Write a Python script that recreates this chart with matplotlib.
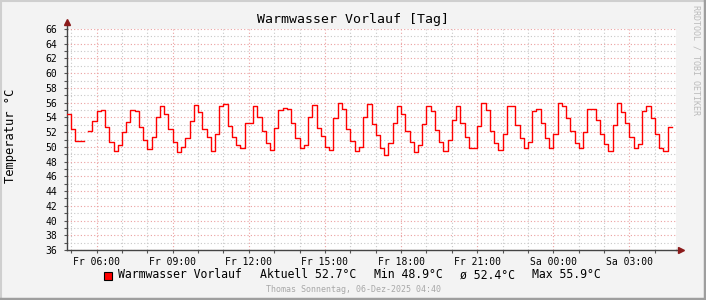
# Warmwasser Vorlauf - Tagesansicht im RRDtool-Stil
import matplotlib
matplotlib.use('Agg')
import matplotlib.pyplot as plt
import matplotlib.dates as mdates
from matplotlib.ticker import FuncFormatter, MultipleLocator
import numpy as np
import pandas as pd

nan = np.nan

werte = [
    54.5, 52.4, 50.8, 50.8, nan, 52.2, 53.5, 54.9, 55.0, 52.7, 50.6, 49.5,
    50.2, 52.0, 53.4, 55.0, 54.9, 52.7, 50.9, 49.7, 51.3, 54.0, 55.5, 54.5,
    52.4, 50.6, 49.3, 50.0, 51.2, 53.5, 55.7, 54.8, 52.4, 51.3, 49.4, 51.8,
    55.6, 55.8, 52.8, 51.3, 50.2, 49.9, 53.2, 53.3, 55.6, 54.0, 52.2, 50.5,
    49.6, 52.5, 55.0, 55.3, 55.1, 53.2, 51.2, 49.9, 50.2, 54.0, 55.7, 52.5,
    51.5, 50.0, 49.6, 53.9, 55.9, 55.1, 52.4, 50.8, 49.4, 50.0, 54.0, 55.8,
    53.1, 51.6, 49.9, 48.9, 50.5, 53.2, 55.6, 54.4, 52.2, 50.6, 49.3, 50.2,
    53.1, 55.5, 54.9, 52.3, 50.7, 49.4, 50.9, 53.6, 55.5, 53.2, 51.3, 49.8,
    49.9, 52.8, 55.9, 55.0, 52.2, 50.5, 49.6, 51.8, 55.5, 55.5, 53.0, 51.2,
    49.9, 50.7, 54.9, 55.2, 53.2, 51.2, 49.9, 51.8, 55.9, 55.5, 53.9, 52.2,
    50.5, 49.9, 52.0, 55.2, 55.1, 53.7, 51.7, 50.4, 49.4, 53.0, 55.9, 54.7,
    53.3, 51.3, 49.9, 50.4, 54.9, 55.6, 53.9, 51.8, 49.8, 49.4, 52.7,
]
start = pd.Timestamp('2025-12-05 04:50')
ende = pd.Timestamp('2025-12-06 04:50')
zeiten = pd.date_range(start, periods=len(werte) + 1, freq='10min')

legende = ['Warmwasser Vorlauf', 'Aktuell 52.7°C', 'Min 48.9°C', 'ø 52.4°C', 'Max 55.9°C']
legende_x = [118, 260, 374, 460, 532]
wochentage = ['Mo', 'Di', 'Mi', 'Do', 'Fr', 'Sa', 'So']

plt.rcParams['font.family'] = 'DejaVu Sans Mono'
W, H = 706, 300
fig = plt.figure(figsize=(W / 100, H / 100), dpi=100, facecolor='#F3F3F3')

# Rahmen
fig.add_artist(plt.Line2D([0, 1], [1 - 0.5 / H, 1 - 0.5 / H], color='#CFCFCF', lw=1.5))
fig.add_artist(plt.Line2D([0.5 / W, 0.5 / W], [0, 1], color='#CFCFCF', lw=1.5))
fig.add_artist(plt.Line2D([0, 1], [1 / H, 1 / H], color='#9E9E9E', lw=2.5))
fig.add_artist(plt.Line2D([1 - 1 / W, 1 - 1 / W], [0, 1], color='#9E9E9E', lw=2.5))

x0, x1, ytop, ybot = 67, 676, 29, 250
ax = fig.add_axes([x0 / W, 1 - ybot / H, (x1 - x0) / W, (ybot - ytop) / H])
ax.set_facecolor('white')

y_plot = werte + [werte[-1]]
ax.plot(zeiten, y_plot, drawstyle='steps-post', color='#FF0000', lw=1.0, zorder=3)

ax.set_xlim(start, ende)
ax.set_ylim(36, 66)

# Gitter
ax.xaxis.set_major_locator(mdates.HourLocator(byhour=range(0, 24, 3)))
ax.xaxis.set_minor_locator(mdates.HourLocator())
ax.yaxis.set_major_locator(MultipleLocator(2))
ax.yaxis.set_minor_locator(MultipleLocator(1))
ax.grid(which='minor', color='#C8C8C8', linestyle=(0, (1, 2)), lw=0.8)
ax.grid(which='major', color='#EBA0A0', linestyle=(0, (1, 2)), lw=0.8)
ax.set_axisbelow(True)


def zeit_label(x, pos):
    d = mdates.num2date(x)
    return '%s %s' % (wochentage[d.weekday()], d.strftime('%H:%M'))


ax.xaxis.set_major_formatter(FuncFormatter(zeit_label))
ax.tick_params(which='both', length=2, width=0.8, color='#555555', labelsize=7, pad=3)
ax.tick_params(axis='y', pad=5)

for s in ['top', 'right']:
    ax.spines[s].set_visible(False)
for s in ['left', 'bottom']:
    ax.spines[s].set_color('#444444')
    ax.spines[s].set_linewidth(1.0)

# Achsenpfeile
ax.plot([0, 0], [1, 1.03], transform=ax.transAxes, color='#444444', lw=1.0, clip_on=False)
ax.plot([1, 1.008], [0, 0], transform=ax.transAxes, color='#444444', lw=1.0, clip_on=False)
ax.plot([0], [1.03], marker='^', ms=4, color='#8B1A1A', transform=ax.transAxes, clip_on=False)
ax.plot([1.008], [0], marker='>', ms=4, color='#8B1A1A', transform=ax.transAxes, clip_on=False)

# Texte
fig.text(353 / W, 1 - 19 / H, 'Warmwasser Vorlauf [Tag]', ha='center', va='center', fontsize=9.5)
fig.text(11 / W, 1 - 136 / H, 'Temperatur °C', rotation=90, ha='center', va='center', fontsize=8.7)
fig.text(696 / W, 1 - 60 / H, 'RRDTOOL / TOBI OETIKER', rotation=270, ha='center', va='center',
         fontsize=6, color='#BBBBBB')

fig.add_artist(plt.Rectangle((103.5 / W, 1 - 280 / H), 8 / W, 8 / H, facecolor='#FF0000',
                             edgecolor='black', lw=0.8))
for txt, xp in zip(legende, legende_x):
    fig.text(xp / W, 1 - 275 / H, txt, ha='left', va='center', fontsize=8.3)

fig.text(353 / W, 1 - 289 / H, 'Thomas Sonnentag, 06-Dez-2025 04:40', ha='center', va='center',
         fontsize=6, color='#A8A8A8')

fig.savefig('out.png', dpi=100, facecolor=fig.get_facecolor())
